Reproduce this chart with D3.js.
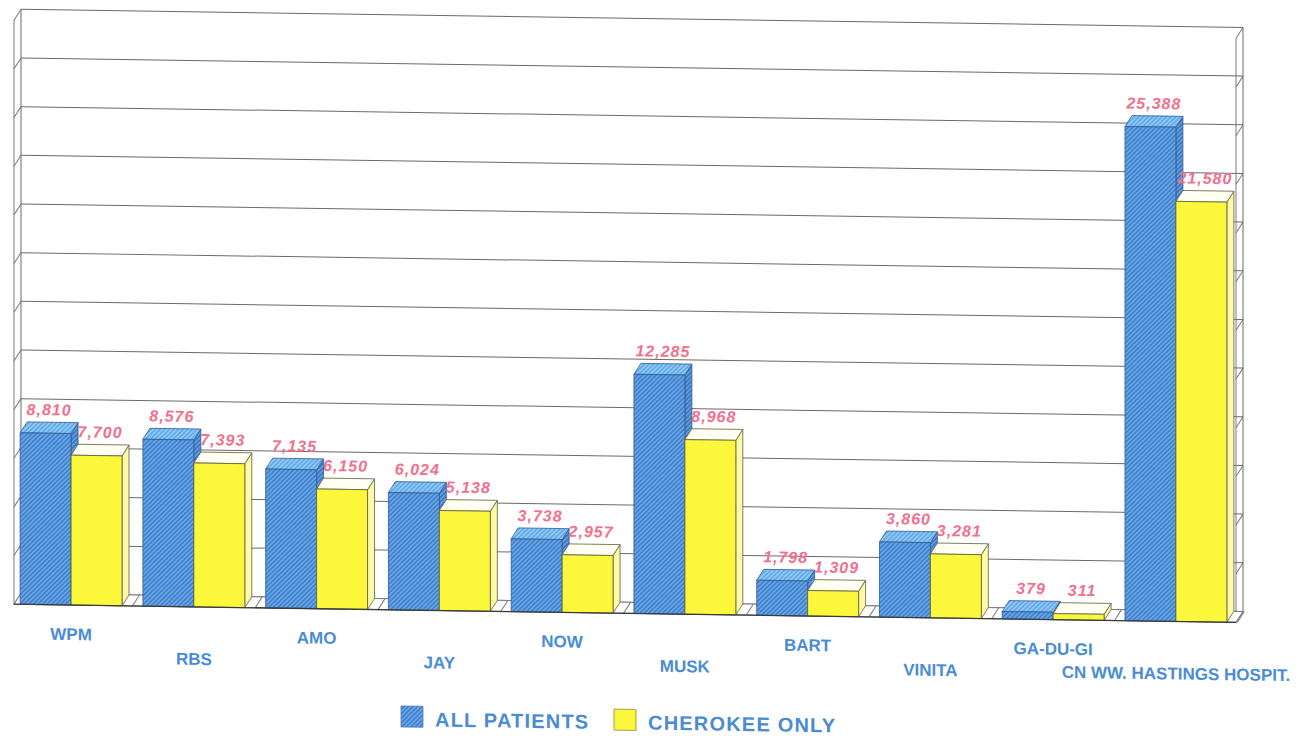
<!DOCTYPE html>
<html>
<head>
<meta charset="utf-8">
<script src="https://cdn.jsdelivr.net/npm/d3@7"></script>
<style>
  body { margin: 0; background: #fff; }
  svg { display: block; }
</style>
</head>
<body>
<script>
const categories = ['WPM', 'RBS', 'AMO', 'JAY', 'NOW', 'MUSK', 'BART', 'VINITA', 'GA-DU-GI', 'CN WW. HASTINGS HOSPIT.'];
const allPatients = [8810, 8576, 7135, 6024, 3738, 12285, 1798, 3860, 379, 25388];
const cherokeeOnly = [7700, 7393, 6150, 5138, 2957, 8968, 1309, 3281, 311, 21580];
const seriesNames = ['ALL PATIENTS', 'CHEROKEE ONLY'];
const gridValues = [0, 2500, 5000, 7500, 10000, 12500, 15000, 17500, 20000, 22500, 25000, 27500, 30000];

const width = 1307;
const height = 738;
const depth = { x: 7, y: 11 };
const fmt = d3.format(',');

const svg = d3.select('body').append('svg')
  .attr('width', width)
  .attr('height', height);

// hatch patterns for the blue series
const defs = svg.append('defs');
const hatch = (id, base, line) => {
  const p = defs.append('pattern')
    .attr('id', id)
    .attr('patternUnits', 'userSpaceOnUse')
    .attr('width', 3.2)
    .attr('height', 3.2)
    .attr('patternTransform', 'rotate(45)');
  p.append('rect').attr('width', 3.2).attr('height', 3.2).attr('fill', base);
  p.append('line').attr('x1', 0.8).attr('y1', 0).attr('x2', 0.8).attr('y2', 3.2)
    .attr('stroke', line).attr('stroke-width', 1);
};
hatch('hatchFront', '#3f80cf', '#86bdee');
hatch('hatchTop', '#5ea9ea', '#b4dcfa');
hatch('hatchSide', '#3a78c4', '#7fb4e6');

// the scan is tilted a little, so the whole chart is sheared
const g = svg.append('g').attr('transform', 'skewY(0.85)');

const x = d3.scaleBand()
  .domain(categories)
  .range([14, 1233])
  .paddingInner(0.17)
  .paddingOuter(0.05);

const xs = d3.scaleBand()
  .domain([0, 1])
  .range([0, x.bandwidth()]);

const y = d3.scaleLinear()
  .domain([0, 30000])
  .range([604, 20]);

const left = 14;
const right = 1236;
const y0 = y(0);

// back wall gridlines
g.append('g')
  .selectAll('line')
  .data(gridValues)
  .enter()
  .append('line')
  .attr('x1', left + depth.x)
  .attr('x2', right + depth.x)
  .attr('y1', (d) => y(d) - depth.y)
  .attr('y2', (d) => y(d) - depth.y)
  .attr('stroke', '#6a6a6a')
  .attr('stroke-width', 1);

// side walls
[left, right].forEach((wx) => {
  const wall = g.append('g');
  wall.selectAll('line')
    .data(gridValues)
    .enter()
    .append('line')
    .attr('x1', wx)
    .attr('y1', (d) => y(d))
    .attr('x2', wx + depth.x)
    .attr('y2', (d) => y(d) - depth.y)
    .attr('stroke', '#7a7a7a')
    .attr('stroke-width', 1);
  wall.append('line')
    .attr('x1', wx).attr('x2', wx)
    .attr('y1', y(0)).attr('y2', y(30000))
    .attr('stroke', '#7a7a7a');
  wall.append('line')
    .attr('x1', wx + depth.x).attr('x2', wx + depth.x)
    .attr('y1', y(0) - depth.y).attr('y2', y(30000) - depth.y)
    .attr('stroke', '#6a6a6a');
});

// floor
g.append('polygon')
  .attr('points', [
    [left, y0], [right, y0],
    [right + depth.x, y0 - depth.y], [left + depth.x, y0 - depth.y]
  ].join(' '))
  .attr('fill', '#fff')
  .attr('stroke', '#7a7a7a')
  .attr('stroke-width', 1);

g.append('g')
  .selectAll('line')
  .data(categories)
  .enter()
  .append('line')
  .attr('x1', (d) => x(d) + x.bandwidth() + (x.step() - x.bandwidth()) / 2)
  .attr('x2', (d) => x(d) + x.bandwidth() + (x.step() - x.bandwidth()) / 2 + depth.x)
  .attr('y1', y0)
  .attr('y2', y0 - depth.y)
  .attr('stroke', '#7a7a7a');

// bars
const bars = [];
categories.forEach((c, i) => {
  bars.push({ cat: c, s: 0, v: allPatients[i] });
  bars.push({ cat: c, s: 1, v: cherokeeOnly[i] });
});

const styles = [
  { front: 'url(#hatchFront)', top: 'url(#hatchTop)', side: 'url(#hatchSide)', stroke: '#2f5a92' },
  { front: '#fbf73a', top: '#fffff2', side: '#fdfba8', stroke: '#5e5e40' },
];

const bar = g.append('g')
  .selectAll('g')
  .data(bars)
  .enter()
  .append('g');

const bx = (d) => x(d.cat) + xs(d.s);
const bw = xs.bandwidth();

bar.append('polygon')
  .attr('points', (d) => {
    const x1 = bx(d) + bw;
    const t = y(d.v);
    return [[x1, t], [x1 + depth.x, t - depth.y], [x1 + depth.x, y0 - depth.y], [x1, y0]].join(' ');
  })
  .attr('fill', (d) => styles[d.s].side)
  .attr('stroke', (d) => styles[d.s].stroke)
  .attr('stroke-width', 0.8);

bar.append('polygon')
  .attr('points', (d) => {
    const x1 = bx(d);
    const t = y(d.v);
    return [[x1, t], [x1 + depth.x, t - depth.y], [x1 + bw + depth.x, t - depth.y], [x1 + bw, t]].join(' ');
  })
  .attr('fill', (d) => styles[d.s].top)
  .attr('stroke', (d) => styles[d.s].stroke)
  .attr('stroke-width', 0.8);

bar.append('rect')
  .attr('x', bx)
  .attr('y', (d) => y(d.v))
  .attr('width', bw)
  .attr('height', (d) => y0 - y(d.v))
  .attr('fill', (d) => styles[d.s].front)
  .attr('stroke', (d) => styles[d.s].stroke)
  .attr('stroke-width', 0.8);

// front edge of the floor
g.append('line')
  .attr('x1', left).attr('x2', right)
  .attr('y1', y0).attr('y2', y0)
  .attr('stroke', '#3a3a3a')
  .attr('stroke-width', 1.3);

// value labels
g.append('g')
  .selectAll('text')
  .data(bars)
  .enter()
  .append('text')
  .attr('x', (d) => bx(d) + bw / 2 + depth.x / 2)
  .attr('y', (d) => y(d.v) - depth.y - 7)
  .attr('text-anchor', 'middle')
  .attr('font-family', 'Liberation Sans, Arial, sans-serif')
  .attr('font-weight', 'bold')
  .attr('font-style', 'italic')
  .attr('font-size', 16)
  .attr('letter-spacing', 1)
  .attr('fill', '#f2708c')
  .text((d) => fmt(d.v));

// category labels, alternating rows
g.append('g')
  .selectAll('text')
  .data(categories)
  .enter()
  .append('text')
  .attr('x', (d) => x(d) + x.bandwidth() / 2)
  .attr('y', (d, i) => (i % 2 ? 662 : 639))
  .attr('text-anchor', 'middle')
  .attr('font-family', 'Liberation Sans, Arial, sans-serif')
  .attr('font-weight', 'bold')
  .attr('font-size', 17)
  .attr('fill', '#4a8cd4')
  .text((d) => d);

// legend
const legend = g.append('g').attr('transform', 'translate(401,700)');
const legendItems = legend.selectAll('g')
  .data(seriesNames)
  .enter()
  .append('g')
  .attr('transform', (d, i) => `translate(${i * 213},0)`);

legendItems.append('rect')
  .attr('width', 22)
  .attr('height', 21)
  .attr('fill', (d, i) => styles[i].front)
  .attr('stroke', (d, i) => (i ? '#8a8a3a' : '#4a7fc0'))
  .attr('stroke-width', 0.8);

legendItems.append('text')
  .attr('x', 34)
  .attr('y', 20)
  .attr('font-family', 'Liberation Sans, Arial, sans-serif')
  .attr('font-weight', 'bold')
  .attr('font-size', 20)
  .attr('letter-spacing', 1.2)
  .attr('fill', '#4b8bd2')
  .text((d) => d);
</script>
</body>
</html>
